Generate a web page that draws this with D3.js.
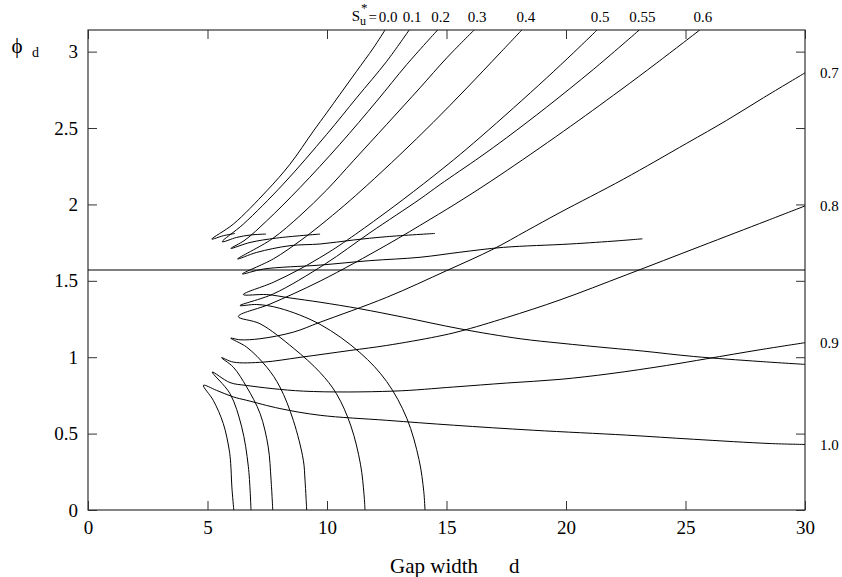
<!DOCTYPE html>
<html>
<head>
<meta charset="utf-8">
<script src="https://cdn.jsdelivr.net/npm/d3@7"></script>
<style>
body { margin: 0; background: #fff; }
svg text { font-family: "Liberation Serif", "Times New Roman", serif; fill: #000; }
</style>
</head>
<body>
<svg id="chart" width="842" height="577"></svg>
<script>
'use strict';

// axis ticks
var xTicks      = [0, 5, 10, 15, 20, 25, 30];
var yTicks      = [0, 0.5, 1, 1.5, 2, 2.5, 3];
var yTickLabels = ['0', '0.5', '1', '1.5', '2', '2.5', '3'];

// S_u* values, one curve each (lower branch end -> turning point -> upper branch end)
var sTopLabels   = ['0.0', '0.1', '0.2', '0.3', '0.4', '0.5', '0.55', '0.6'];
var sRightLabels = ['0.7', '0.8', '0.9', '1.0'];

var curveS000 = [[6.15,1.81],[5.66,1.795],[5.18,1.773],[6.08,1.871],[7.48,2.089],[8.45,2.263],
    [9.43,2.48],[9.99,2.6],[10.54,2.72],[11.24,2.872],[11.94,3.024],[12.43,3.142]];
var curveS010 = [[7.45,1.806],[6.8,1.8],[6.22,1.784],[5.62,1.756],[6.5,1.871],[8.17,2.133],
    [9.99,2.459],[11.24,2.698],[12.5,2.937],[13.44,3.142]];
var curveS020 = [[9.71,1.806],[7.9,1.78],[6.78,1.751],[5.98,1.712],[6.57,1.767],[7.48,1.893],
    [8.87,2.11],[10.54,2.394],[12.08,2.676],[13.34,2.916],[14.63,3.142]];
var curveS030 = [[14.52,1.81],[12.5,1.789],[11.1,1.767],[9.71,1.741],[8.45,1.73],[7.06,1.686],
    [6.26,1.643],[7.69,1.773],[8.87,1.926],[9.99,2.095],[11.1,2.285],[12.5,2.524],[13.89,2.763],
    [15.01,2.959],[16.16,3.142]];
var curveS040 = [[23.2,1.775],[22.18,1.762],[20.17,1.741],[17.38,1.719],[15.56,1.687],[13.89,1.654],
    [11.79,1.632],[9.71,1.603],[7.34,1.577],[6.46,1.545],[7.75,1.643],[8.87,1.761],[9.71,1.862],
    [10.75,1.997],[11.66,2.123],[13.05,2.325],[14.45,2.538],[15.85,2.762],[17.24,2.991],[18.2,3.15]];
var curveS050 = [[30,0.953],[28.12,0.972],[25.33,1.005],[23.23,1.04],[21.84,1.06],[19.75,1.092],
    [18.08,1.121],[15.56,1.186],[13.19,1.262],[11.38,1.317],[9.71,1.36],[8.45,1.388],[7.48,1.41],
    [6.5,1.41],[7.75,1.49],[8.87,1.577],[9.92,1.672],[10.54,1.734],[11.94,1.888],[13.61,2.083],
    [15.29,2.291],[16.4,2.438],[17.8,2.631],[19.19,2.828],[20.31,2.992],[21.12,3.114],[21.3,3.142]];
var curveS055 = [[14.1,0],[14.05,0.12],[13.85,0.33],[13.34,0.6],[12.5,0.84],[11.38,1.03],
    [9.71,1.215],[8.03,1.32],[7.06,1.345],[6.36,1.338],[7.75,1.414],[9.92,1.61],[11.8,1.815],
    [13.89,2.035],[14.73,2.13],[16.4,2.31],[17.52,2.437],[19.19,2.637],[21.14,2.883],[23.07,3.142]];
var curveS060 = [[11.59,0],[11.55,0.1],[11.4,0.3],[11.0,0.55],[10.4,0.76],[9.71,0.9],[8.59,1.06],
    [7.2,1.219],[6.29,1.266],[7.62,1.348],[9.71,1.498],[12.5,1.735],[14.31,1.902],[15.7,2.035],
    [17.24,2.192],[19.89,2.478],[22.26,2.746],[23.8,2.926],[25.6,3.142]];
var curveS070 = [[9.15,0],[9.08,0.196],[9.01,0.326],[8.59,0.587],[8.03,0.805],[7.48,0.935],
    [6.64,1.066],[5.97,1.125],[6.36,1.114],[7.2,1.121],[8.59,1.164],[9.71,1.229],[12.5,1.392],
    [15.01,1.567],[16.96,1.708],[18.36,1.828],[19.75,1.947],[22.4,2.165],[25.05,2.4],
    [26.72,2.55],[28.26,2.698],[30,2.861]];
var curveS080 = [[7.73,0],[7.66,0.196],[7.54,0.413],[7.2,0.631],[6.64,0.805],[6.08,0.935],
    [5.59,0.997],[6.08,0.968],[7.34,0.968],[8.87,0.999],[10.96,1.044],[12.5,1.077],[14.59,1.135],
    [15.57,1.17],[17.52,1.26],[19.75,1.375],[22.54,1.54],[25.61,1.725],[28.4,1.893],[30,1.99]];
var curveS090 = [[6.82,0],[6.71,0.283],[6.43,0.544],[5.94,0.762],[5.2,0.903],[5.94,0.834],
    [6.64,0.815],[9.01,0.778],[12.77,0.778],[15.29,0.805],[17.52,0.831],[19.75,0.855],[21.84,0.892],
    [24.21,0.946],[25.89,0.99],[28.12,1.049],[30,1.095]];
var curveS100 = [[6.1,0],[6.02,0.15],[5.97,0.305],[5.91,0.392],[5.66,0.566],[5.24,0.718],[4.83,0.816],
    [5.38,0.783],[6.08,0.74],[6.64,0.718],[8.03,0.664],[9.71,0.62],[12.5,0.587],[15.29,0.555],
    [18.63,0.522],[22.54,0.49],[25.33,0.463],[28.54,0.435],[30,0.429]];

var topCurves   = [curveS000, curveS010, curveS020, curveS030, curveS040, curveS050, curveS055, curveS060];
var rightCurves = [curveS070, curveS080, curveS090, curveS100];

// reference line phi = pi/2
var halfPiLine = [[0, Math.PI / 2], [30, Math.PI / 2]];

var svg = d3.select('#chart');

var plotLeft = 88, plotRight = 805, plotTop = 30, plotBottom = 510;

var x = d3.scaleLinear().domain([0, 30]).range([plotLeft, plotRight]),
    y = d3.scaleLinear().domain([0, Math.PI]).range([plotBottom, plotTop]);

function styleAxis(g) {
    g.select('.domain').remove();
    g.selectAll('.tick line').attr('stroke', '#333').attr('stroke-width', 1);
    g.attr('font-size', 19).attr('font-family', null);
}

// bottom axis with labels
svg.append('g')
    .attr('transform', 'translate(0,' + plotBottom + ')')
    .call(d3.axisBottom(x).tickValues(xTicks).tickSize(-9).tickPadding(11)
        .tickFormat(function(d){ return String(d); }))
    .call(styleAxis);

// left axis with labels
svg.append('g')
    .attr('transform', 'translate(' + plotLeft + ',0)')
    .call(d3.axisLeft(y).tickValues(yTicks).tickSize(-9).tickPadding(10)
        .tickFormat(function(d, i){ return yTickLabels[i]; }))
    .call(styleAxis);

// mirrored ticks, no labels
svg.append('g')
    .attr('transform', 'translate(0,' + plotTop + ')')
    .call(d3.axisTop(x).tickValues(xTicks).tickSize(-9).tickFormat(''))
    .call(styleAxis);
svg.append('g')
    .attr('transform', 'translate(' + plotRight + ',0)')
    .call(d3.axisRight(y).tickValues(yTicks).tickSize(-9).tickFormat(''))
    .call(styleAxis);

// frame
svg.append('rect')
    .attr('x', plotLeft).attr('y', plotTop)
    .attr('width', plotRight - plotLeft).attr('height', plotBottom - plotTop)
    .attr('fill', 'none').attr('stroke', '#333').attr('stroke-width', 1.2);

svg.append('clipPath').attr('id', 'plotclip')
    .append('rect')
    .attr('x', plotLeft).attr('y', plotTop)
    .attr('width', plotRight - plotLeft).attr('height', plotBottom - plotTop);

var line = d3.line()
    .x(function(d){ return x(d[0]); })
    .y(function(d){ return y(d[1]); })
    .curve(d3.curveCatmullRom.alpha(0.5));

var plot = svg.append('g').attr('clip-path', 'url(#plotclip)');

plot.append('path')
    .attr('d', d3.line().x(function(d){ return x(d[0]); }).y(function(d){ return y(d[1]); })(halfPiLine))
    .attr('fill', 'none').attr('stroke', '#000').attr('stroke-width', 1.1);

plot.selectAll('path.curve')
    .data(topCurves.concat(rightCurves))
    .enter().append('path')
        .attr('class', 'curve')
        .attr('d', line)
        .attr('fill', 'none')
        .attr('stroke', '#000')
        .attr('stroke-width', 1);

// labels along the top, centred a little right of where each curve leaves
svg.selectAll('text.toplab')
    .data(topCurves)
    .enter().append('text')
        .attr('class', 'toplab')
        .attr('x', function(c){ return x(c[c.length - 1][0]) + 3; })
        .attr('y', 22)
        .attr('text-anchor', 'middle')
        .attr('font-size', 15)
        .text(function(c, i){ return sTopLabels[i]; });

// S_u^* = prefix for the first label
var firstX = x(curveS000[curveS000.length - 1][0]) + 3;
var pre = svg.append('g').attr('font-size', 15);
pre.append('text').attr('x', firstX - 11).attr('y', 22).attr('text-anchor', 'end').text('=');
pre.append('text').attr('x', firstX - 28).attr('y', 21).attr('text-anchor', 'end').text('S');
pre.append('text').attr('x', firstX - 27).attr('y', 12).attr('font-size', 13).text('*');
pre.append('text').attr('x', firstX - 28).attr('y', 25).attr('font-size', 12).text('u');

// labels on the right, at each curve's end
svg.selectAll('text.rightlab')
    .data(rightCurves)
    .enter().append('text')
        .attr('class', 'rightlab')
        .attr('x', 820)
        .attr('y', function(c){ return y(c[c.length - 1][1]); })
        .attr('dy', '0.35em')
        .attr('font-size', 15)
        .text(function(c, i){ return sRightLabels[i]; });

// axis titles
svg.append('text')
    .attr('x', 390).attr('y', 573)
    .attr('font-size', 21)
    .text('Gap width');
svg.append('text')
    .attr('x', 509).attr('y', 573)
    .attr('font-size', 21)
    .text('d');

svg.append('text')
    .attr('x', 17).attr('y', 53)
    .attr('text-anchor', 'middle')
    .attr('font-size', 21)
    .text('\u03D5');
svg.append('text')
    .attr('x', 32).attr('y', 57)
    .attr('font-size', 14)
    .text('d');
</script>
</body>
</html>
